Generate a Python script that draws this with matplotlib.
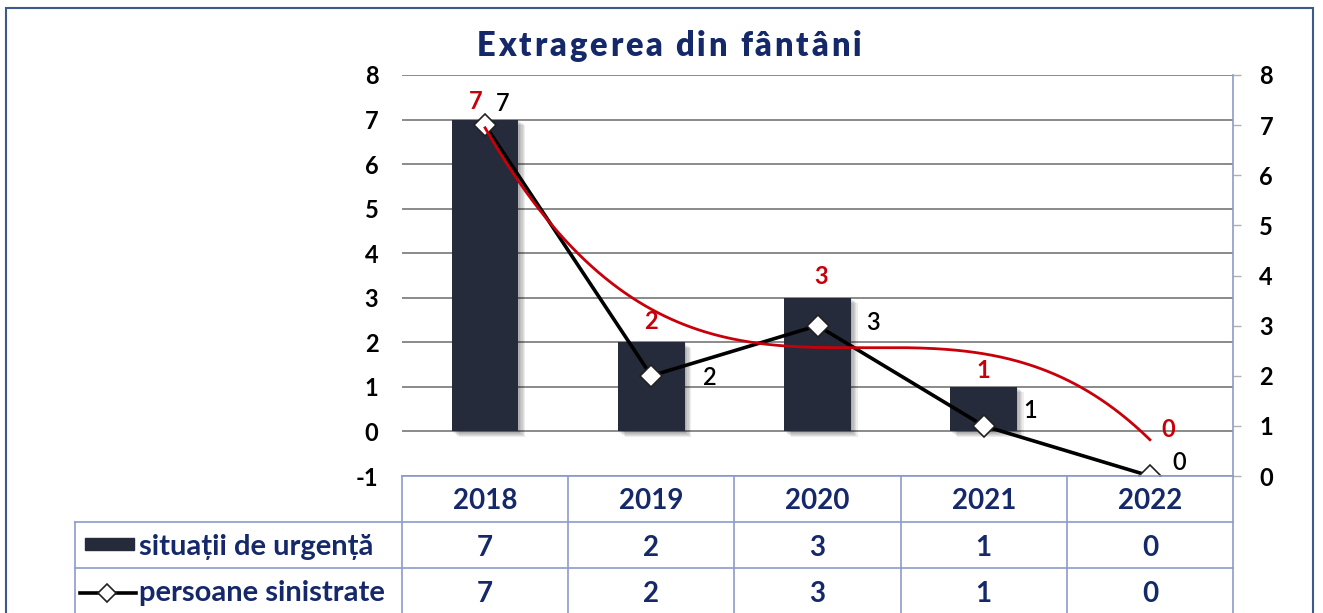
import matplotlib
matplotlib.use('Agg')
import matplotlib.pyplot as plt
import numpy as np
import matplotlib.patheffects as pe
from matplotlib.transforms import blended_transform_factory
from matplotlib.lines import Line2D
from matplotlib.patches import Rectangle
from matplotlib.textpath import TextToPath
from matplotlib.font_manager import FontProperties

plt.rcParams['axes.unicode_minus'] = False

# ---------------- data ----------------
years = ['2018', '2019', '2020', '2021', '2022']
situatii = [7, 2, 3, 1, 0]
persoane = [7, 2, 3, 1, 0]
left_ticks = [-1, 0, 1, 2, 3, 4, 5, 6, 7, 8]
right_ticks = [0, 1, 2, 3, 4, 5, 6, 7, 8]
title = 'Extragerea din fântâni'
row_labels = ['situații de urgență', 'persoane sinistrate']

# label offsets (pixels) -- layout only
bar_lab_off = [(-9, 18), (0, 21), (4, 21), (0, 16), (18, 2)]
line_lab_off = [(18, 22), (59, -2), (55, 3), (46, 15), (29, 14)]

# ---------------- styling ----------------
FONT = 'Lato'
NAVY = '#15296a'
BAR = '#252b3a'
RED = '#c8000a'
TBL = '#8c9bc9'
GRID = '#8a8a8a'

W, H = 1323, 613
fig = plt.figure(figsize=(W / 100, H / 100), dpi=100)
fig.patch.set_facecolor('white')


def fx(px):
    return px / W


def fy(py):
    return 1 - py / H


ax = fig.add_axes([fx(402), fy(476), fx(1233) - fx(402), fy(75) - fy(476)])
ax.set_xlim(-0.5, len(years) - 0.5)
ax.set_ylim(-1, 8)
x = np.arange(len(years))

ax.set_axisbelow(True)
ax.set_yticks(left_ticks)
ax.yaxis.grid(True, color=GRID, lw=1.4)
ax.set_xticks([])
for s in ax.spines.values():
    s.set_visible(False)
ax.tick_params(axis='y', length=0, pad=17)
for lab in ax.get_yticklabels():
    lab.set_fontfamily(FONT)
    lab.set_fontweight('bold')
    lab.set_fontsize(17)
    lab.set_color('black')

bars = ax.bar(x, situatii, width=0.4, color=BAR, zorder=3)
shadow = [pe.SimplePatchShadow(offset=(k, -k * 0.8), shadow_rgbFace='#000000', alpha=0.07)
          for k in (1, 2, 3, 4, 5)]
for b in bars:
    b.set_path_effects(shadow + [pe.Normal()])

for i, v in enumerate(situatii):
    ax.annotate(str(v), (x[i], v), xytext=bar_lab_off[i], textcoords='offset pixels',
                ha='center', va='center', color=RED, fontsize=17, fontweight='bold',
                fontfamily=FONT, zorder=8)

ax2 = ax.twinx()
ax2.set_ylim(0, 8)
ax2.set_yticks(right_ticks)
for s in ['top', 'left', 'bottom']:
    ax2.spines[s].set_visible(False)
ax2.spines['right'].set_color(TBL)
ax2.spines['right'].set_linewidth(1.2)
ax2.tick_params(axis='y', length=6, width=1, color='#b0b0b0', pad=13)
for lab in ax2.get_yticklabels():
    lab.set_fontfamily(FONT)
    lab.set_fontweight('bold')
    lab.set_fontsize(17)

ax2.plot(x, persoane, color='black', lw=2.6, marker='D', ms=11, mfc='white',
         mec='#222222', mew=1.2, zorder=5)
for i, v in enumerate(persoane):
    ax2.annotate(str(v), (x[i], v), xytext=line_lab_off[i], textcoords='offset pixels',
                 ha='center', va='center', color='black', fontsize=17, fontweight='semibold',
                 fontfamily=FONT, zorder=8)

# polynomial (order 3) trendline of bar series, as the original chart shows
coef = np.polyfit(x, situatii, 3)
xs = np.linspace(x[0], x[-1], 300)
ax2.plot(xs, np.polyval(coef, xs), color=RED, lw=2.0, transform=ax.transData, zorder=6)

# ---------------- title ----------------
tp = TextToPath()
fp = FontProperties(family=FONT, weight='heavy', size=23.5)
spacing = 2.8  # px between letters
widths = []
for i in range(len(title) + 1):
    w, h, d = tp.get_text_width_height_descent(title[:i], fp, ismath=False)
    widths.append(w * 100 / 72)
total = widths[-1] + spacing * (len(title) - 1)
x0 = 669 - total / 2
for i, ch in enumerate(title):
    fig.text(fx(x0 + widths[i] + spacing * i), fy(56), ch, fontproperties=fp,
             color=NAVY, ha='left', va='baseline')

# ---------------- data table ----------------
bt = blended_transform_factory(ax.transData, fig.transFigure)
xr = fig.transFigure.inverted().transform(ax.transData.transform((len(years) - 0.5, 0)))[0]
xl = fx(75)
lw_t = 1.2
fig.add_artist(Line2D([fx(402), xr], [fy(476), fy(476)], color=TBL, lw=lw_t))
fig.add_artist(Line2D([xl, xr], [fy(522), fy(522)], color=TBL, lw=lw_t))
fig.add_artist(Line2D([xl, xr], [fy(568), fy(568)], color=TBL, lw=lw_t))
for b in np.arange(len(years) + 1) - 0.5:
    fig.add_artist(Line2D([b, b], [fy(476), 0], color=TBL, lw=lw_t, transform=bt))
fig.add_artist(Line2D([xl, xl], [fy(522), 0], color=TBL, lw=lw_t))

tkw = dict(fontfamily=FONT, fontweight='bold', fontsize=20, color=NAVY, ha='center',
           va='baseline')
for i, y in enumerate(years):
    fig.text(x[i], fy(509), y, transform=bt, **tkw)
    fig.text(x[i], fy(556), str(situatii[i]), transform=bt, **tkw)
    fig.text(x[i], fy(602), str(persoane[i]), transform=bt, **tkw)

# legend keys
fig.add_artist(Rectangle((fx(85), fy(550)), fx(134) - fx(85), fy(538) - fy(550),
                         transform=fig.transFigure, color=BAR))
fig.add_artist(Line2D([fx(80), fx(136)], [fy(593), fy(593)], color='black', lw=2.6))
fig.add_artist(Line2D([fx(107)], [fy(593)], marker='D', ms=9, mfc='white', mec='#222222',
                      mew=1.2, lw=0))
rkw = dict(fontfamily=FONT, fontweight='bold', fontsize=21, color=NAVY, ha='left',
           va='baseline')
fig.text(fx(139), fy(555), row_labels[0], **rkw)
fig.text(fx(139), fy(601), row_labels[1], **rkw)

# outer frame
fig.add_artist(Rectangle((fx(6), -0.05), fx(1313) - fx(6), fy(8) + 0.05,
                         transform=fig.transFigure, fill=False, edgecolor='#3f5a8a', lw=1.5))

fig.savefig('out.png', dpi=100)
